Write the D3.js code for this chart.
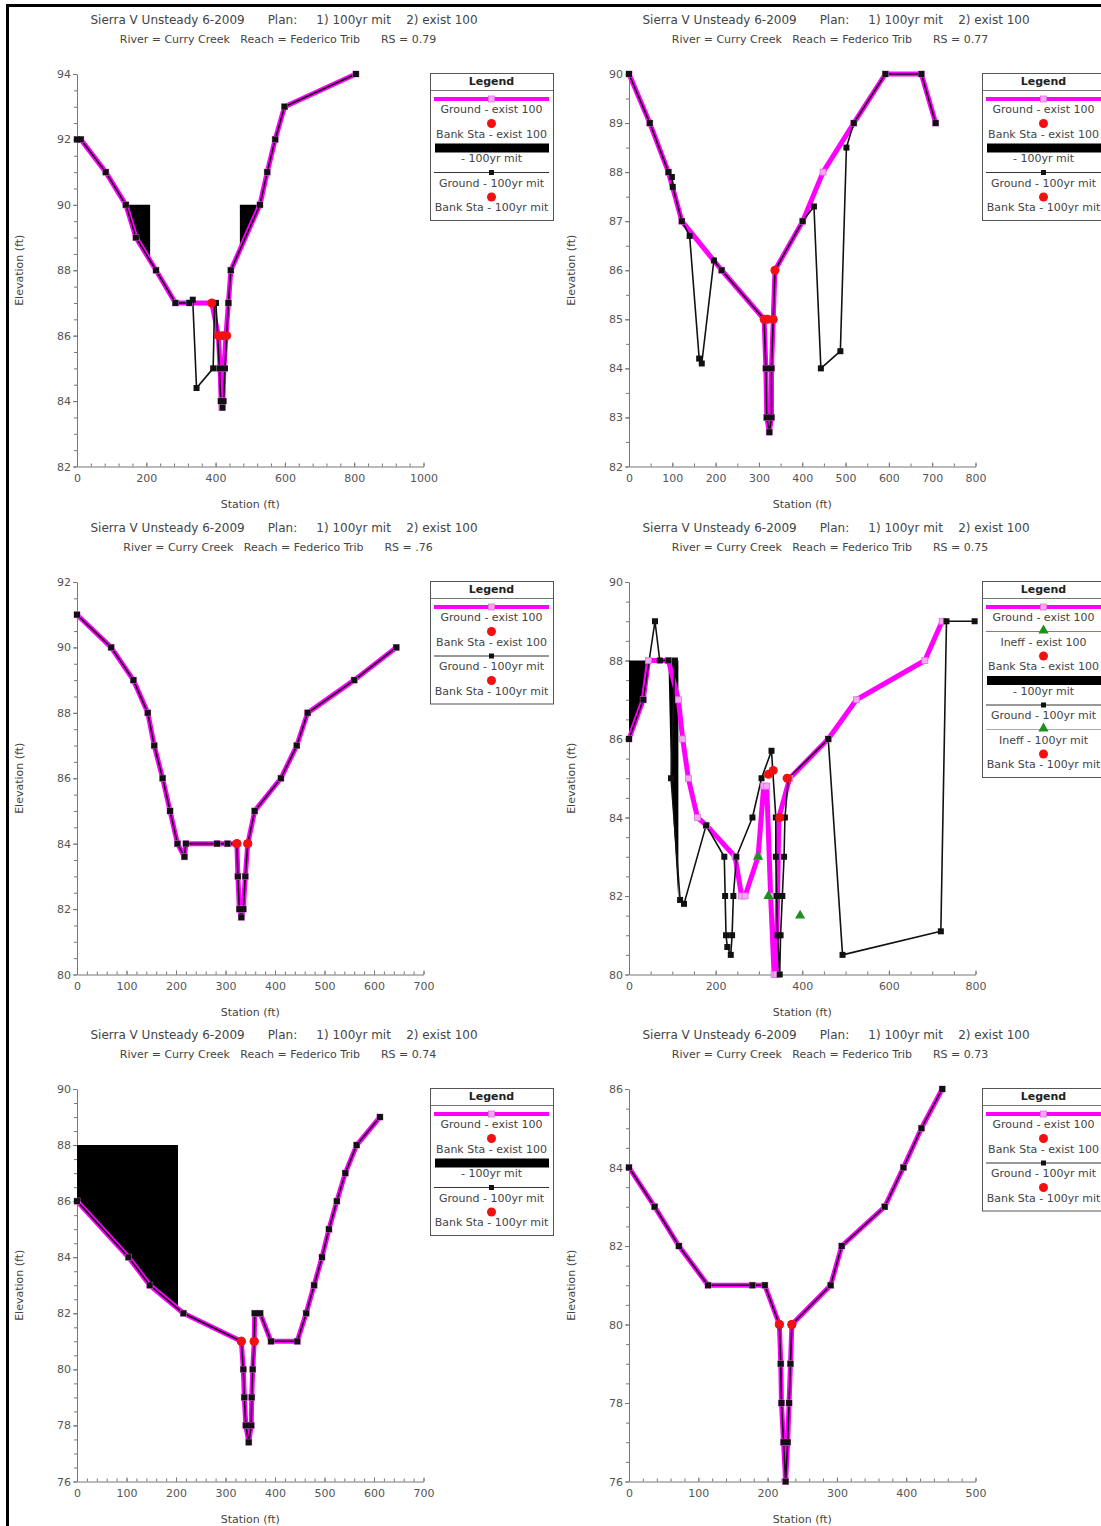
<!DOCTYPE html>
<html>
<head>
<meta charset="utf-8">
<script src="https://cdnjs.cloudflare.com/ajax/libs/d3/7.8.5/d3.min.js"></script>
<style>
body { margin: 0; background: #fff; }
text { font-family: "DejaVu Sans", "Liberation Sans", Arial, sans-serif; }
</style>
</head>
<body>
<svg width="1101" height="1526"></svg>
<script>
// RS 0.79
var rs79ExistGround = [[0,92],[11,92],[83,91],[141,90],[170,89],[228,88],[284,87],[324,87],[389,87],[408,86],[413,85],[416,84],[418,83.8],[421,84],[424,85],[430,86],[437,87],[444,88],[528,90],[549,91],[572,92],[599,93],[805,94]];
var rs79MitGround = [[0,92],[11,92],[83,91],[141,90],[170,89],[228,88],[284,87],[324,87],[334,87.1],[345,84.4],[393,85],[397,87],[401,87],[411,85],[415,84],[420,83.8],[423,84],[427,85],[437,87],[444,88],[528,90],[549,91],[572,92],[599,93],[805,94]];
var rs79ExistBank = [[389,87],[420,86]];
var rs79MitBank = [[408,86],[432,86]];
var rs79Blocked = [[[141,90],[211,90],[211,88.3],[170,89]], [[470,90],[528,90],[470,88.62]]];

// RS 0.77
var rs77ExistGround = [[0,90],[48,89],[91,88],[122,87],[214,86],[312,85],[316,84],[318,83],[324,82.7],[329,83],[329,84],[333,85],[337,86],[401,87],[448,88],[519,89],[592,90],[675,90],[708,89]];
var rs77MitGround = [[0,90],[48,89],[91,88],[99,87.9],[101,87.7],[122,87],[140,86.7],[162,84.2],[168,84.1],[196,86.2],[214,86],[312,85],[316,84],[318,83],[324,82.7],[329,83],[329,84],[333,85],[337,86],[401,87],[427,87.3],[443,84],[488,84.35],[502,88.5],[519,89],[592,90],[675,90],[708,89]];
var rs77ExistBank = [[312,85],[337,86]];
var rs77MitBank = [[320,85],[333,85]];

// RS .76
var rs76Ground = [[0,91],[69,90],[114,89],[143,88],[156,87],[173,86],[188,85],[203,84],[217,83.6],[220,84],[283,84],[304,84],[323,84],[325,83],[328,82],[332,81.75],[336,82],[340,83],[345,84],[359,85],[412,86],[444,87],[466,88],[560,89],[645,90]];
var rs76Bank = [[323,84],[345,84]];

// RS 0.75
var rs75ExistGround = [[0,86],[33,87],[45,88],[91,88],[114,87],[124,86],[137,85],[158,84],[179,83.8],[245,83],[260,82],[268,82],[298,83],[311,84.8],[318,84.8],[327,82],[335,80],[340,80],[346,84],[371,85],[460,86],[525,87],[683,88],[723,89]];
var rs75MitGround = [[0,86],[33,87],[60,89],[71,88],[91,88],[106,88],[97,85],[118,81.9],[127,81.8],[178,83.8],[220,83],[222,82],[224,81],[227,80.7],[235,80.5],[238,81],[241,82],[248,83],[285,84],[306,85],[329,85.7],[339,84],[339,83],[341,82],[343,81],[348,80],[350,81],[354,82],[358,83],[360,84],[368,85],[460,86],[493,80.5],[720,81.1],[733,89],[798,89]];
var rs75ExistBank = [[322,85.1],[348,84]];
var rs75MitBank = [[333,85.2],[365,85]];
var rs75ExistIneff = [[298,83]];
var rs75MitIneff = [[322,82],[395,81.5]];
var rs75Blocked = [[[0,88],[45,88],[33,87],[0,86]], [[91,88],[114,88],[114,81.9],[97,85]]];

// RS 0.74
var rs74Ground = [[0,86],[104,84],[147,83],[215,82],[332,81],[336,80],[338,79],[341,78],[347,77.4],[352,78],[353,79],[355,80],[358,81],[359,82],[370,82],[392,81],[445,81],[463,82],[479,83],[495,84],[509,85],[525,86],[542,87],[565,88],[612,89]];
var rs74Bank = [[332,81],[358,81]];
var rs74Blocked = [[[0,88],[204,88],[204,82.1],[147,83],[104,84],[0,86]]];

// RS 0.73
var rs73Ground = [[0,84],[37,83],[72,82],[114,81],[178,81],[196,81],[217,80],[219,79],[220,78],[223,77],[226,76],[229,77],[231,78],[233,79],[235,80],[291,81],[307,82],[369,83],[396,84],[422,85],[452,86]];
var rs73Bank = [[217,80],[235,80]];

var rsLabels = ["0.79", "0.77", ".76", "0.75", "0.74", "0.73"];
var xMaxes = [1000, 800, 700, 800, 700, 500];
var xSteps = [200, 100, 100, 200, 100, 100];
var xMinorSteps = [40, 50, 20, 50, 20, 20];
var yDomains = [[82,94], [82,90], [80,92], [80,90], [76,90], [76,86]];
var ySteps = [2, 1, 2, 2, 2, 2];

var legendFull = ["groundExist", "bankExist", "blocked", "groundMit", "bankMit"];
var legendPlain = ["groundExist", "bankExist", "groundMit", "bankMit"];
var legendIneff = ["groundExist", "ineffExist", "bankExist", "blocked", "groundMit", "ineffMit", "bankMit"];
var legendText = {
  groundExist: "Ground - exist 100", ineffExist: "Ineff - exist 100", bankExist: "Bank Sta - exist 100",
  blocked: "- 100yr mit", groundMit: "Ground - 100yr mit", ineffMit: "Ineff - 100yr mit", bankMit: "Bank Sta - 100yr mit"
};

var panels = [
  {existGround: rs79ExistGround, mitGround: rs79MitGround, existBank: rs79ExistBank, mitBank: rs79MitBank, blocked: rs79Blocked, legend: legendFull},
  {existGround: rs77ExistGround, mitGround: rs77MitGround, existBank: rs77ExistBank, mitBank: rs77MitBank, blocked: [], legend: legendFull},
  {existGround: rs76Ground, mitGround: rs76Ground, existBank: rs76Bank, mitBank: rs76Bank, blocked: [], legend: legendPlain},
  {existGround: rs75ExistGround, mitGround: rs75MitGround, existBank: rs75ExistBank, mitBank: rs75MitBank, blocked: rs75Blocked,
   existIneff: rs75ExistIneff, mitIneff: rs75MitIneff, legend: legendIneff},
  {existGround: rs74Ground, mitGround: rs74Ground, existBank: rs74Bank, mitBank: rs74Bank, blocked: rs74Blocked, legend: legendFull},
  {existGround: rs73Ground, mitGround: rs73Ground, existBank: rs73Bank, mitBank: rs73Bank, blocked: [], legend: legendPlain}
];

var svg = d3.select("svg");
var colX = [77, 629], rowY = [74, 582, 1089];
var plotW = 346.5, plotH = 392.5;

/*outer frame, right and bottom edges are off the page*/
svg.append("rect").attr("x", 7.5).attr("y", 5.5).attr("width", 1200).attr("height", 1600)
  .attr("fill", "none").attr("stroke", "#000").attr("stroke-width", 3);

panels.forEach(function(p, i) {
  var left = colX[i % 2], top = rowY[Math.floor(i / 2)];
  var g = svg.append("g").attr("transform", "translate(" + left + "," + top + ")");
  var x = d3.scaleLinear().domain([0, xMaxes[i]]).range([0, plotW]);
  var y = d3.scaleLinear().domain(yDomains[i]).range([plotH, 0]);

  // titles
  g.append("text").attr("x", 207).attr("y", -54).attr("text-anchor", "middle").attr("dominant-baseline", "middle")
    .style("white-space", "pre").style("font-size", "12px").attr("fill", "#444")
    .text("Sierra V Unsteady 6-2009      Plan:     1) 100yr mit    2) exist 100");
  g.append("text").attr("x", 201).attr("y", -34).attr("text-anchor", "middle").attr("dominant-baseline", "middle")
    .style("white-space", "pre").style("font-size", "11px").attr("fill", "#444")
    .text("River = Curry Creek   Reach = Federico Trib      RS = " + rsLabels[i]);

  // axes
  var yMajor = d3.range(yDomains[i][0], yDomains[i][1] + 0.001, ySteps[i]);
  var yMinor = d3.range(yDomains[i][0], yDomains[i][1] + 0.001, 0.5);
  var xMajor = d3.range(0, xMaxes[i] + 0.001, xSteps[i]);
  var xMinor = d3.range(0, xMaxes[i] + 0.001, xMinorSteps[i]);

  g.append("g").call(d3.axisLeft(y).tickValues(yMinor).tickSize(3).tickFormat(""))
    .call(function(a) { a.select(".domain").remove(); });
  g.append("g").attr("transform", "translate(0," + plotH + ")")
    .call(d3.axisBottom(x).tickValues(xMinor).tickSize(-3).tickFormat(""))
    .call(function(a) { a.select(".domain").remove(); });
  var ya = g.append("g").call(d3.axisLeft(y).tickValues(yMajor).tickSize(4).tickPadding(2).tickSizeOuter(0).tickFormat(d3.format("d")));
  var xa = g.append("g").attr("transform", "translate(0," + plotH + ")")
    .call(d3.axisBottom(x).tickValues(xMajor).tickSize(-4).tickPadding(8).tickSizeOuter(0).tickFormat(d3.format("d")));
  [ya, xa].forEach(function(a) {
    a.selectAll("text").style("font-size", "11px").attr("fill", "#555");
  });
  g.selectAll(".domain, .tick line").attr("stroke", "#777");

  g.append("text").attr("transform", "translate(-57," + plotH / 2 + ") rotate(-90)")
    .attr("text-anchor", "middle").attr("dominant-baseline", "middle")
    .style("font-size", "11px").attr("fill", "#444").text("Elevation (ft)");
  g.append("text").attr("x", plotW / 2).attr("y", plotH + 38).attr("text-anchor", "middle")
    .attr("dominant-baseline", "middle").style("font-size", "11px").attr("fill", "#444").text("Station (ft)");

  // plot
  g.append("clipPath").attr("id", "clip-" + i).append("rect")
    .attr("x", -4).attr("y", -4).attr("width", plotW + 8).attr("height", plotH + 8);
  var plot = g.append("g").attr("clip-path", "url(#clip-" + i + ")");
  var line = d3.line().x(function(d) { return x(d[0]); }).y(function(d) { return y(d[1]); });

  plot.selectAll(".blocked").data(p.blocked).enter().append("path")
    .attr("d", function(d) { return line(d) + "Z"; }).attr("fill", "#000");
  plot.append("path").attr("d", line(p.existGround)).attr("fill", "none")
    .attr("stroke", "#ff00ff").attr("stroke-width", 5).attr("stroke-linejoin", "round");
  plot.append("path").attr("d", line(p.mitGround)).attr("fill", "none")
    .attr("stroke", "#111").attr("stroke-width", 1.6).attr("stroke-linejoin", "round");

  plot.selectAll(".pm").data(p.existGround).enter().append("rect")
    .attr("x", function(d) { return x(d[0]) - 3; }).attr("y", function(d) { return y(d[1]) - 3; })
    .attr("width", 6).attr("height", 6).attr("fill", "#f4a8f4").attr("stroke", "#e070e0").attr("stroke-width", 0.8);
  plot.selectAll(".bm").data(p.mitGround).enter().append("rect")
    .attr("x", function(d) { return x(d[0]) - 3; }).attr("y", function(d) { return y(d[1]) - 3; })
    .attr("width", 6).attr("height", 6).attr("fill", "#111");

  var tri = d3.symbol().type(d3.symbolTriangle).size(45);
  plot.selectAll(".ineff").data((p.existIneff || []).concat(p.mitIneff || [])).enter().append("path")
    .attr("d", tri).attr("transform", function(d) { return "translate(" + x(d[0]) + "," + y(d[1]) + ")"; })
    .attr("fill", "#1f8f1f");
  plot.selectAll(".bank").data(p.existBank.concat(p.mitBank)).enter().append("circle")
    .attr("cx", function(d) { return x(d[0]); }).attr("cy", function(d) { return y(d[1]); })
    .attr("r", 4.5).attr("fill", "#f21010");

  // legend
  var lw = 123, lh = 24.5 + 24.5 * p.legend.length;
  var lg = g.append("g").attr("transform", "translate(353,-1)");
  lg.append("rect").attr("x", 0.5).attr("y", 0.5).attr("width", lw).attr("height", lh)
    .attr("fill", "#fff").attr("stroke", "#555");
  lg.append("text").attr("x", lw / 2).attr("y", 9).attr("text-anchor", "middle").attr("dominant-baseline", "middle")
    .style("font-size", "11px").style("font-weight", "bold").attr("fill", "#222").text("Legend");
  lg.append("line").attr("x1", 0.5).attr("x2", lw).attr("y1", 17.5).attr("y2", 17.5).attr("stroke", "#777");

  p.legend.forEach(function(key, k) {
    var sy = 26 + 24.5 * k, cx = lw / 2;
    var e = lg.append("g");
    if (key == "groundExist") {
      e.append("line").attr("x1", 4).attr("x2", lw - 4).attr("y1", sy).attr("y2", sy).attr("stroke", "#ff00ff").attr("stroke-width", 4);
      e.append("rect").attr("x", cx - 3).attr("y", sy - 3).attr("width", 6).attr("height", 6)
        .attr("fill", "#f4a8f4").attr("stroke", "#e070e0").attr("stroke-width", 0.8);
    } else if (key == "groundMit") {
      e.append("line").attr("x1", 4).attr("x2", lw - 4).attr("y1", sy).attr("y2", sy).attr("stroke", "#333").attr("stroke-width", 1);
      e.append("rect").attr("x", cx - 2.5).attr("y", sy - 2.5).attr("width", 5).attr("height", 5).attr("fill", "#111");
    } else if (key == "blocked") {
      e.append("rect").attr("x", 5).attr("y", sy - 4.5).attr("width", lw - 9).attr("height", 9).attr("fill", "#000");
    } else if (key == "bankExist" || key == "bankMit") {
      e.append("circle").attr("cx", cx).attr("cy", sy).attr("r", 4.5).attr("fill", "#f21010");
    } else {
      e.append("line").attr("x1", 4).attr("x2", lw - 4).attr("y1", sy).attr("y2", sy)
        .attr("stroke", key == "ineffExist" ? "#e040e0" : "#aaa").attr("stroke-width", 1.2);
      e.append("path").attr("d", tri).attr("transform", "translate(" + cx + "," + (sy - 1) + ")").attr("fill", "#1f8f1f");
    }
    e.append("text").attr("x", cx).attr("y", sy + 11).attr("text-anchor", "middle").attr("dominant-baseline", "middle")
      .style("font-size", "11px").attr("fill", "#444").text(legendText[key]);
  });
});
</script>
</body>
</html>
